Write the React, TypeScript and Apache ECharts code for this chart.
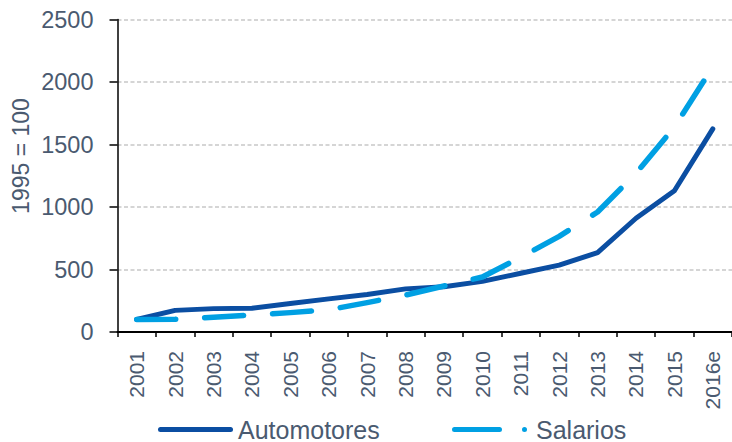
import React, { useEffect, useRef } from 'react';
import * as echarts from 'echarts';

const categories = ['2001', '2002', '2003', '2004', '2005', '2006', '2007', '2008', '2009', '2010', '2011', '2012', '2013', '2014', '2015', '2016e'];
const automotores = [100, 173, 187, 190, 228, 265, 300, 345, 362, 405, 470, 535, 635, 910, 1130, 1625];
const salarios = [100, 102, 118, 136, 155, 178, 235, 295, 368, 440, 598, 765, 960, 1270, 1640, 2120];
const seriesNames = ['Automotores', 'Salarios'];
const yAxisTitle = '1995 = 100';

const TEXT = '#4A5A70';
const FONT = '"Liberation Sans", Arial, sans-serif';
const DARK = '#0B4EA2';
const LIGHT = '#00A0E3';

const solidIcon = 'path://M2.5,0 H72.5 A2.5,2.5 0 0 1 72.5,5 H2.5 A2.5,2.5 0 0 1 2.5,0 Z';
const dashIcon = 'path://M2.5,0 H47.5 A2.5,2.5 0 0 1 47.5,5 H2.5 A2.5,2.5 0 0 1 2.5,0 Z M72.5,0 A2.5,2.5 0 0 1 72.5,5 A2.5,2.5 0 0 1 72.5,0 Z';

export default function App() {
  const ref = useRef<HTMLDivElement>(null);
  useEffect(() => {
    const chart = echarts.init(ref.current!, null, { renderer: 'svg' });
    chart.setOption({
      animation: false,
      backgroundColor: '#ffffff',
      textStyle: { fontFamily: FONT },
      grid: { left: 117.5, right: 0, top: 19.5, bottom: 110, containLabel: false },
      legend: [
        {
          data: [{ name: seriesNames[0], icon: solidIcon }],
          left: 158, top: 417, padding: 0,
          itemWidth: 75, itemHeight: 5,
          textStyle: { fontSize: 25, color: TEXT, fontFamily: FONT },
        },
        {
          data: [{ name: seriesNames[1], icon: dashIcon }],
          left: 452, top: 417, padding: 0,
          itemWidth: 75, itemHeight: 5,
          textStyle: { fontSize: 25, color: TEXT, fontFamily: FONT, padding: [0, 0, 0, 4] },
        },
      ],
      graphic: [
        {
          type: 'text',
          x: 21,
          y: 156,
          rotation: Math.PI / 2,
          style: {
            text: yAxisTitle,
            fill: TEXT,
            fontSize: 23,
            fontFamily: FONT,
            align: 'center',
            verticalAlign: 'middle',
          },
        },
      ],
      xAxis: {
        type: 'category',
        data: categories,
        boundaryGap: true,
        axisLine: { show: true, lineStyle: { color: '#000', width: 2 } },
        axisTick: { show: true, length: 5, alignWithLabel: false, lineStyle: { color: '#000', width: 1.5 } },
        axisLabel: { rotate: 90, margin: 19, fontSize: 21, color: TEXT, fontFamily: FONT, interval: 0 },
        splitLine: { show: false },
      },
      yAxis: {
        type: 'value',
        min: 0,
        max: 2500,
        interval: 500,
        axisLine: { show: true, lineStyle: { color: '#000', width: 1.5 } },
        axisTick: { show: true, length: 8, lineStyle: { color: '#000', width: 1.5 } },
        axisLabel: { margin: 24, fontSize: 23.5, color: TEXT, fontFamily: FONT, formatter: (v: number) => String(v) },
        splitLine: { show: true, lineStyle: { color: '#C8C8C8', width: 1.5, type: [4, 2.5] } },
      },
      series: [
        {
          name: seriesNames[0],
          type: 'line',
          data: automotores,
          symbol: 'none',
          color: DARK,
          lineStyle: { color: DARK, width: 5, cap: 'round', join: 'round' },
          z: 2,
        },
        {
          name: seriesNames[1],
          type: 'line',
          data: salarios,
          symbol: 'none',
          color: LIGHT,
          lineStyle: { color: LIGHT, width: 5.5, type: [39, 29], cap: 'round', join: 'round' },
          z: 3,
        },
      ],
    });
    return () => chart.dispose();
  }, []);
  return <div ref={ref} style={{ position: 'absolute', left: 0, top: 0, width: 732, height: 442 }} />;
}
